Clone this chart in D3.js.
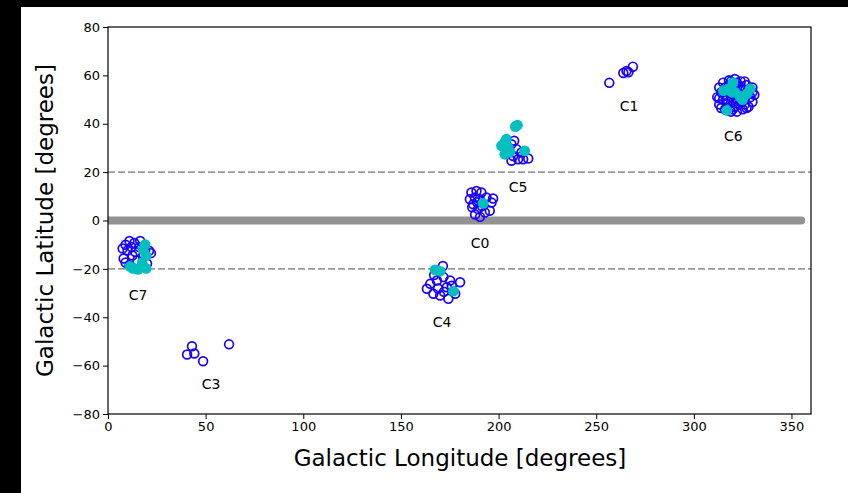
<!DOCTYPE html>
<html>
<head>
<meta charset="utf-8">
<script src="https://cdn.jsdelivr.net/npm/d3@7"></script>
<style>
  html, body { margin: 0; padding: 0; background: #ffffff; }
  svg { display: block; font-family: "DejaVu Sans", sans-serif; }
</style>
</head>
<body>
<svg id="chart" width="848" height="493"></svg>
<script>
// Galactic coordinates (longitude, latitude) in degrees, grouped by cluster.
// Open blue circles: all members; filled cyan circles: highlighted members.
const memberPoints = [
  // C7
  [9,-10],[11,-8.5],[13.5,-9.3],[10,-12.4],[7.5,-11.6],[16,-11],[12.5,-14.5],[9,-17.4],
  [15,-16.5],[19,-12.4],[21,-12.5],[8,-15.7],[11,-18.6],[17.5,-19],[20,-17.8],[22,-13.5],
  [14,-13],[18,-15],[12,-11],[16.5,-8.5],
  // C3
  [43,-52],[40.5,-55.4],[44.2,-55],[48.7,-58.2],[62,-51.2],
  // C4
  [171.5,-18.8],[165,-26.2],[168.4,-24.8],[171.8,-23.4],[175.2,-24.8],[180.3,-25.5],
  [166.6,-30.3],[170.1,-31],[174.3,-32.4],[177.8,-30.3],[163.3,-28.2],[173.5,-27.6],
  [169,-28.1],[176,-27],[167,-22.5],[172,-29.5],
  // C0
  [186.1,11.6],[188.7,12.2],[191.2,11.6],[185.3,8.8],[187.9,9.5],[190.4,8.8],[187,6.7],
  [193.8,9.5],[196.4,7.4],[189.5,4.7],[195.5,4.0],[193,3.3],[197.2,9.1],[190.5,1.5],
  [188,2.5],[186.5,5.5],[189,7.5],[191.5,6],
  // C5
  [206.6,31.5],[209.2,29.5],[207.5,26.7],[206.6,24.7],[210,25.3],[212.6,25.3],[215.2,25.6],
  [211.7,28.1],[204.9,28.4],[203.2,32.2],[208,33],
  // C1
  [256.7,56.9],[263.9,61],[266.5,61.3],[268.8,63.6],[265.5,61.8],
  // C6
  [313,55],[315,57],[318,58],[321,58.5],[324,57.5],[327,56],[330,55],[331,52],[330,49],
  [328,47],[325,46],[322,45],[319,45],[316,46],[313,48],[312,51],[314,53],[317,50],
  [320,49],[323,48],[326,50],[329,51],[318,56],[322,55],[325,54],[316,52],[320,52],
  [323,52.5],[327,46.5],[314,46.5],[321,47],[319,57.5],[322,57],
  [318,53],[321,55],[324,55.5],[317,48],[320,46],[326,48],[328,53],[315,50],[319,51],
  [322,50],[324,49],[313,50.5],[330,53],[326,57.5],[316,55]
];

const highlightPoints = [
  // C7
  [19,-10],[19.5,-14.5],[17.5,-17.4],[12.8,-19.8],[15.4,-20.2],[11.3,-19],[19.5,-19.8],[18,-12],
  // C4
  [167.5,-20.4],[170.1,-21],[176.9,-29.2],
  // C0
  [192.1,7.1],
  // C5
  [209.7,39.4],[208.6,38.8],[203.2,32.2],[201.5,30.9],[204,33.6],[204.9,30.2],[203.2,27.4],
  [205.8,28.4],[213.4,28.8],
  // C6
  [315.2,53.7],[317.8,54.4],[319.5,53],[321.2,53],[323.8,51],[327.2,52.4],[328.9,54.4],
  [316.9,45.5],[320,57],[325,50]
];

// Cluster names and where their labels sit (lon, lat)
const clusterNames = ["C0", "C1", "C3", "C4", "C5", "C6", "C7"];
const clusterLabelLon = [190.6, 266.9, 52.8, 171.1, 210, 320.2, 15.4];
const clusterLabelLat = [-9.5, 47.5, -67.8, -42.1, 14, 35.1, -31];

// Galactic plane band and the |b| = 20 deg boundaries
const planeLon = [0, 355];
const planeLat = 0;
const boundaryLats = [20, -20];

const xTicks = [0, 50, 100, 150, 200, 250, 300, 350];
const yTicks = [-80, -60, -40, -20, 0, 20, 40, 60, 80];

const xLabel = "Galactic Longitude [degrees]";
const yLabel = "Galactic Latitude [degrees]";

const svg = d3.select("#chart");

// Dark frame strips along the top and left of the canvas
svg.append("rect").attr("x", 0).attr("y", 0).attr("width", 848).attr("height", 7).attr("fill", "#000");
svg.append("rect").attr("x", 0).attr("y", 0).attr("width", 21).attr("height", 493).attr("fill", "#000");

const plot = { left: 108, right: 811, top: 27, bottom: 414 };

const x = d3.scaleLinear().domain([0, 360]).range([plot.left, plot.right]);
const y = d3.scaleLinear().domain([-80, 80]).range([plot.bottom, plot.top]);

svg.append("clipPath").attr("id", "plotclip")
  .append("rect")
  .attr("x", plot.left).attr("y", plot.top)
  .attr("width", plot.right - plot.left).attr("height", plot.bottom - plot.top);

const g = svg.append("g").attr("clip-path", "url(#plotclip)");

// Boundary lines
g.selectAll("line.boundary").data(boundaryLats).join("line")
  .attr("class", "boundary")
  .attr("x1", plot.left).attr("x2", plot.right)
  .attr("y1", d => y(d)).attr("y2", d => y(d))
  .attr("stroke", "#999999").attr("stroke-width", 1.8)
  .attr("stroke-dasharray", "7,3");

// Galactic plane
g.append("line")
  .attr("x1", x(planeLon[0])).attr("x2", x(planeLon[1]))
  .attr("y1", y(planeLat)).attr("y2", y(planeLat))
  .attr("stroke", "#939393").attr("stroke-width", 8)
  .attr("stroke-linecap", "round");

// Member points
g.selectAll("circle.member").data(memberPoints).join("circle")
  .attr("class", "member")
  .attr("cx", d => x(d[0])).attr("cy", d => y(d[1]))
  .attr("r", 4.4)
  .attr("fill", "none")
  .attr("stroke", "#1a00ff").attr("stroke-width", 1.7);

// Highlighted points
g.selectAll("circle.highlight").data(highlightPoints).join("circle")
  .attr("class", "highlight")
  .attr("cx", d => x(d[0])).attr("cy", d => y(d[1]))
  .attr("r", 5.4)
  .attr("fill", "#00bfbf");

// Cluster labels
svg.selectAll("text.cluster").data(clusterNames).join("text")
  .attr("class", "cluster")
  .attr("x", (d, i) => x(clusterLabelLon[i]))
  .attr("y", (d, i) => y(clusterLabelLat[i]))
  .attr("text-anchor", "middle")
  .attr("dominant-baseline", "central")
  .attr("font-size", 14)
  .attr("fill", "#000")
  .text(d => d);

// Axes
const fmt = d => d < 0 ? "\u2212" + Math.abs(d) : String(d);

const xAxis = svg.append("g")
  .attr("transform", `translate(0,${plot.bottom})`)
  .call(d3.axisBottom(x).tickValues(xTicks).tickFormat(fmt).tickSize(5).tickSizeOuter(0).tickPadding(3));

const yAxis = svg.append("g")
  .attr("transform", `translate(${plot.left},0)`)
  .call(d3.axisLeft(y).tickValues(yTicks).tickFormat(fmt).tickSize(5).tickSizeOuter(0).tickPadding(3));

[xAxis, yAxis].forEach(a => {
  a.select(".domain").remove();
  a.selectAll("text").attr("font-size", 13).attr("font-family", "DejaVu Sans, sans-serif").attr("fill", "#000");
  a.selectAll("line").attr("stroke", "#000").attr("stroke-width", 1);
});

// Plot frame
svg.append("rect")
  .attr("x", plot.left).attr("y", plot.top)
  .attr("width", plot.right - plot.left).attr("height", plot.bottom - plot.top)
  .attr("fill", "none").attr("stroke", "#000").attr("stroke-width", 1.2);

// Axis titles
svg.append("text")
  .attr("x", 460)
  .attr("y", 466)
  .attr("text-anchor", "middle")
  .attr("font-size", 23)
  .attr("fill", "#000")
  .text(xLabel);

svg.append("text")
  .attr("transform", `translate(53,${(plot.top + plot.bottom) / 2}) rotate(-90)`)
  .attr("text-anchor", "middle")
  .attr("font-size", 23)
  .attr("fill", "#000")
  .text(yLabel);
</script>
</body>
</html>
